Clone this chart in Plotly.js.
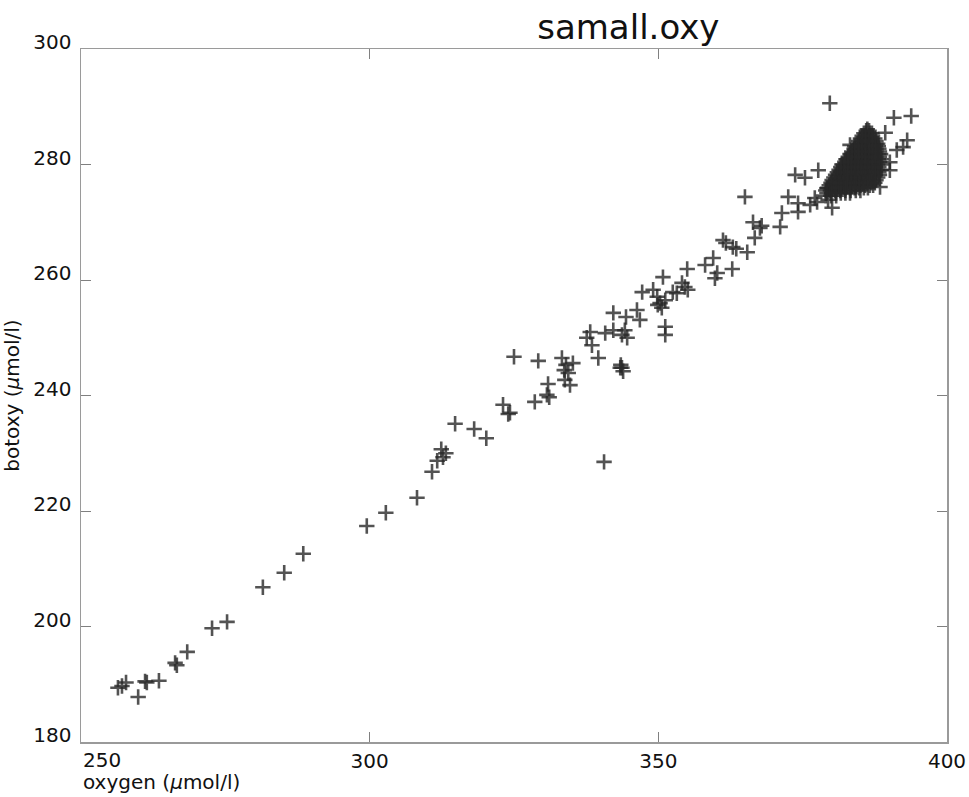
<!DOCTYPE html>
<html>
<head>
<meta charset="utf-8">
<script src="https://cdn.plot.ly/plotly-3.0.1.min.js"></script>
<style>html,body{margin:0;padding:0;background:#fff;}</style>
</head>
<body>
<div id="chart" style="width:969px;height:797px;"></div>
<script>
// scattered points (oxygen, botoxy)
const oxygen = [
256.4,257.1,257.8,261.1,261.4,263.5,259.9,266.3,266.6,268.4,272.7,275.3,281.5,285.2,288.5,
299.5,302.8,308.2,310.8,311.7,312.4,312.7,313.2,314.8,318.1,320.2,323.1,324.0,324.3,325.0,
328.6,330.7,331.1,330.9,329.2,333.3,334.0,335.2,334.4,333.8,334.7,333.7,339.6,
343.7,343.5,343.9,343.4,340.6,337.6,338.5,338.2,340.8,342.2,343.7,344.6,344.2,
342.2,344.4,346.3,346.8,351.2,351.2,347.2,349.1,349.8,350.3,350.6,351.2,349.9,350.8,
352.5,353.2,354.1,355.1,354.6,355.0,358.1,359.5,360.2,359.8,362.8,361.2,361.7,362.9,363.5,365.4,
365.0,366.4,367.6,367.9,366.7,371.1,371.4,372.5,374.2,374.2,376.3,377.5,373.7,375.4,377.7,377.1,
380.1,379.2,379.7,390.8,393.8,389.3,393.1,392.4,391.3,390.1,390.1,383.2,388.4,
// dense cluster
386.2,
385.6,386.0,386.6,387.0,
385.0,385.3,385.9,386.5,387.1,387.5,
384.5,384.8,385.4,386.0,386.6,387.2,387.7,388.0,
383.9,384.1,384.7,385.3,385.9,386.5,387.1,387.7,388.2,
383.2,383.4,384.0,384.6,385.2,385.8,386.4,387.0,387.6,388.2,388.5,
382.5,382.7,383.3,383.9,384.5,385.1,385.7,386.3,386.9,387.5,388.1,388.6,
381.8,382.0,382.6,383.2,383.8,384.4,385.0,385.6,386.2,386.8,387.4,388.0,388.6,
381.3,381.9,382.5,383.1,383.7,384.3,384.9,385.5,386.1,386.7,387.3,387.9,388.6,
380.7,381.3,382.0,382.7,383.4,384.1,384.8,385.5,386.2,386.9,387.6,388.3,
380.1,380.8,381.5,382.2,382.9,383.6,384.3,385.0,385.7,386.4,387.1,387.7,
379.6,380.3,381.0,381.8,382.6,383.4,384.2,385.0,385.8,386.6,387.2,
379.0,379.8,380.6,381.5,382.4,383.3,384.2,385.0,
379.0,379.9,380.8,
379.4,
386.0,386.5,
385.3,385.9,386.5,387.1,
384.7,385.3,385.9,386.5,387.1,387.7,
384.0,384.6,385.2,385.8,386.4,387.0,387.6,388.1,
383.5,384.1,384.7,385.3,385.9,386.5,387.1,387.7,388.3,
382.9,383.5,384.1,384.7,385.3,385.9,386.5,387.1,387.7,388.3,
382.3,382.9,383.5,384.1,384.7,385.3,385.9,386.5,387.1,387.7,388.3,
381.6,382.2,382.8,383.4,384.0,384.6,385.2,385.8,386.4,387.0,387.6,388.2,
381.0,381.6,382.2,382.8,383.4,384.0,384.6,385.2,385.8,386.4,387.0,387.6,388.2,
380.4,381.0,381.7,382.4,383.1,383.8,384.5,385.2,385.9,386.6,387.3,388.0,
379.9,380.6,381.3,382.0,382.7,383.4,384.1,384.8,385.5,386.2,386.9,387.5,
379.3,380.0,380.8,381.6,382.4,383.2,384.0,384.8,385.6,386.3,
379.2,380.0,380.8,381.6,382.4,383.2
];
const botoxy = [
189.4,189.7,190.3,190.5,190.3,190.6,187.8,193.7,193.3,195.6,199.7,200.8,206.8,209.3,212.6,
217.4,219.7,222.3,226.8,228.7,230.7,229.3,230.0,235.1,234.2,232.6,238.4,236.8,237.0,246.7,
238.9,240.1,239.7,242.0,246.0,246.5,245.3,245.6,243.9,242.7,241.8,244.4,246.5,
244.8,245.3,244.2,244.8,228.5,250.0,248.7,251.0,250.8,251.3,250.5,250.0,251.3,
254.3,253.6,254.8,253.1,251.9,250.5,257.9,258.3,257.1,256.0,255.2,256.5,255.7,260.5,
257.9,257.7,259.5,258.3,258.8,261.9,262.6,263.8,261.2,260.3,261.9,266.9,266.4,265.7,265.4,264.8,
274.4,270.0,269.0,269.4,267.3,269.2,271.6,274.4,273.3,271.8,273.0,273.5,278.2,277.7,279.0,274.2,
272.5,275.9,290.6,288.1,288.4,285.5,284.2,283.0,282.5,280.4,279.0,283.4,276.1,
// dense cluster
286.1,
285.4,285.4,285.4,285.4,
284.5,284.5,284.5,284.5,284.5,284.5,
283.6,283.6,283.6,283.6,283.6,283.6,283.6,283.6,
282.7,282.7,282.7,282.7,282.7,282.7,282.7,282.7,282.7,
281.8,281.8,281.8,281.8,281.8,281.8,281.8,281.8,281.8,281.8,281.8,
280.9,280.9,280.9,280.9,280.9,280.9,280.9,280.9,280.9,280.9,280.9,280.9,
280.0,280.0,280.0,280.0,280.0,280.0,280.0,280.0,280.0,280.0,280.0,280.0,280.0,
279.1,279.1,279.1,279.1,279.1,279.1,279.1,279.1,279.1,279.1,279.1,279.1,279.1,
278.2,278.2,278.2,278.2,278.2,278.2,278.2,278.2,278.2,278.2,278.2,278.2,
277.3,277.3,277.3,277.3,277.3,277.3,277.3,277.3,277.3,277.3,277.3,277.3,
276.4,276.4,276.4,276.4,276.4,276.4,276.4,276.4,276.4,276.4,276.4,
275.5,275.5,275.5,275.5,275.5,275.5,275.5,275.5,
274.6,274.6,274.6,
273.9,
285.85,285.85,
284.95,284.95,284.95,284.95,
284.05,284.05,284.05,284.05,284.05,284.05,
283.15,283.15,283.15,283.15,283.15,283.15,283.15,283.15,
282.25,282.25,282.25,282.25,282.25,282.25,282.25,282.25,282.25,
281.35,281.35,281.35,281.35,281.35,281.35,281.35,281.35,281.35,281.35,
280.45,280.45,280.45,280.45,280.45,280.45,280.45,280.45,280.45,280.45,280.45,
279.55,279.55,279.55,279.55,279.55,279.55,279.55,279.55,279.55,279.55,279.55,279.55,
278.65,278.65,278.65,278.65,278.65,278.65,278.65,278.65,278.65,278.65,278.65,278.65,278.65,
277.75,277.75,277.75,277.75,277.75,277.75,277.75,277.75,277.75,277.75,277.75,277.75,
276.85,276.85,276.85,276.85,276.85,276.85,276.85,276.85,276.85,276.85,276.85,276.85,
275.95,275.95,275.95,275.95,275.95,275.95,275.95,275.95,275.95,275.95,
275.05,275.05,275.05,275.05,275.05,275.05
];
const xTickVals = [250, 300, 350, 400];
const xTickText = ['', '300', '350', '400'];
const yTickVals = [180, 200, 220, 240, 260, 280, 300];

const FONT = 'DejaVu Sans, Verdana, sans-serif';

const trace = {
  type: 'scatter', mode: 'markers',
  x: oxygen, y: botoxy,
  marker: {symbol: 'cross-thin-open', size: 11, color: 'rgba(40,40,40,0.8)', line: {width: 2.6, color: 'rgba(40,40,40,0.8)'}},
  hoverinfo: 'x+y'
};

const axisCommon = {
  showgrid: false, zeroline: false,
  showline: true, linecolor: '#9a9a9a', linewidth: 1.5, mirror: 'ticks',
  ticks: 'inside', ticklen: 10, tickwidth: 1, tickcolor: '#808080',
  tickfont: {family: FONT, size: 20, color: '#111'}
};

const layout = {
  width: 969, height: 797,
  margin: {l: 81, r: 22, t: 49, b: 55},
  paper_bgcolor: '#fff', plot_bgcolor: '#fff',
  showlegend: false,
  font: {family: FONT, color: '#111'},
  title: {text: 'samall.oxy', font: {family: FONT, size: 34, color: '#111'},
          xref: 'paper', x: 0.632, xanchor: 'center', yref: 'container', y: 0.966, yanchor: 'middle'},
  xaxis: Object.assign({}, axisCommon, {range: [250, 400], tickvals: xTickVals, ticktext: xTickText, ticklabelstandoff: 0}),
  yaxis: Object.assign({}, axisCommon, {range: [180, 300], tickvals: yTickVals, ticklabelstandoff: 4, ticklabelshift: -7,
    title: {text: 'botoxy (<i>μ</i>mol/l)', font: {family: FONT, size: 20, color: '#111'}, standoff: 10}}),
  annotations: [
    {text: '250', xref: 'x', yref: 'paper', x: 250, y: 0, xanchor: 'left', yanchor: 'top', yshift: -4, showarrow: false,
     font: {family: FONT, size: 20, color: '#111'}},
    {text: 'oxygen (<i>μ</i>mol/l)', xref: 'paper', yref: 'paper', x: 0, y: -0.0577, xanchor: 'left', yanchor: 'middle', showarrow: false,
     font: {family: FONT, size: 20, color: '#111'}}
  ]
};

Plotly.newPlot('chart', [trace], layout, {displayModeBar: false, staticPlot: true});
</script>
</body>
</html>
